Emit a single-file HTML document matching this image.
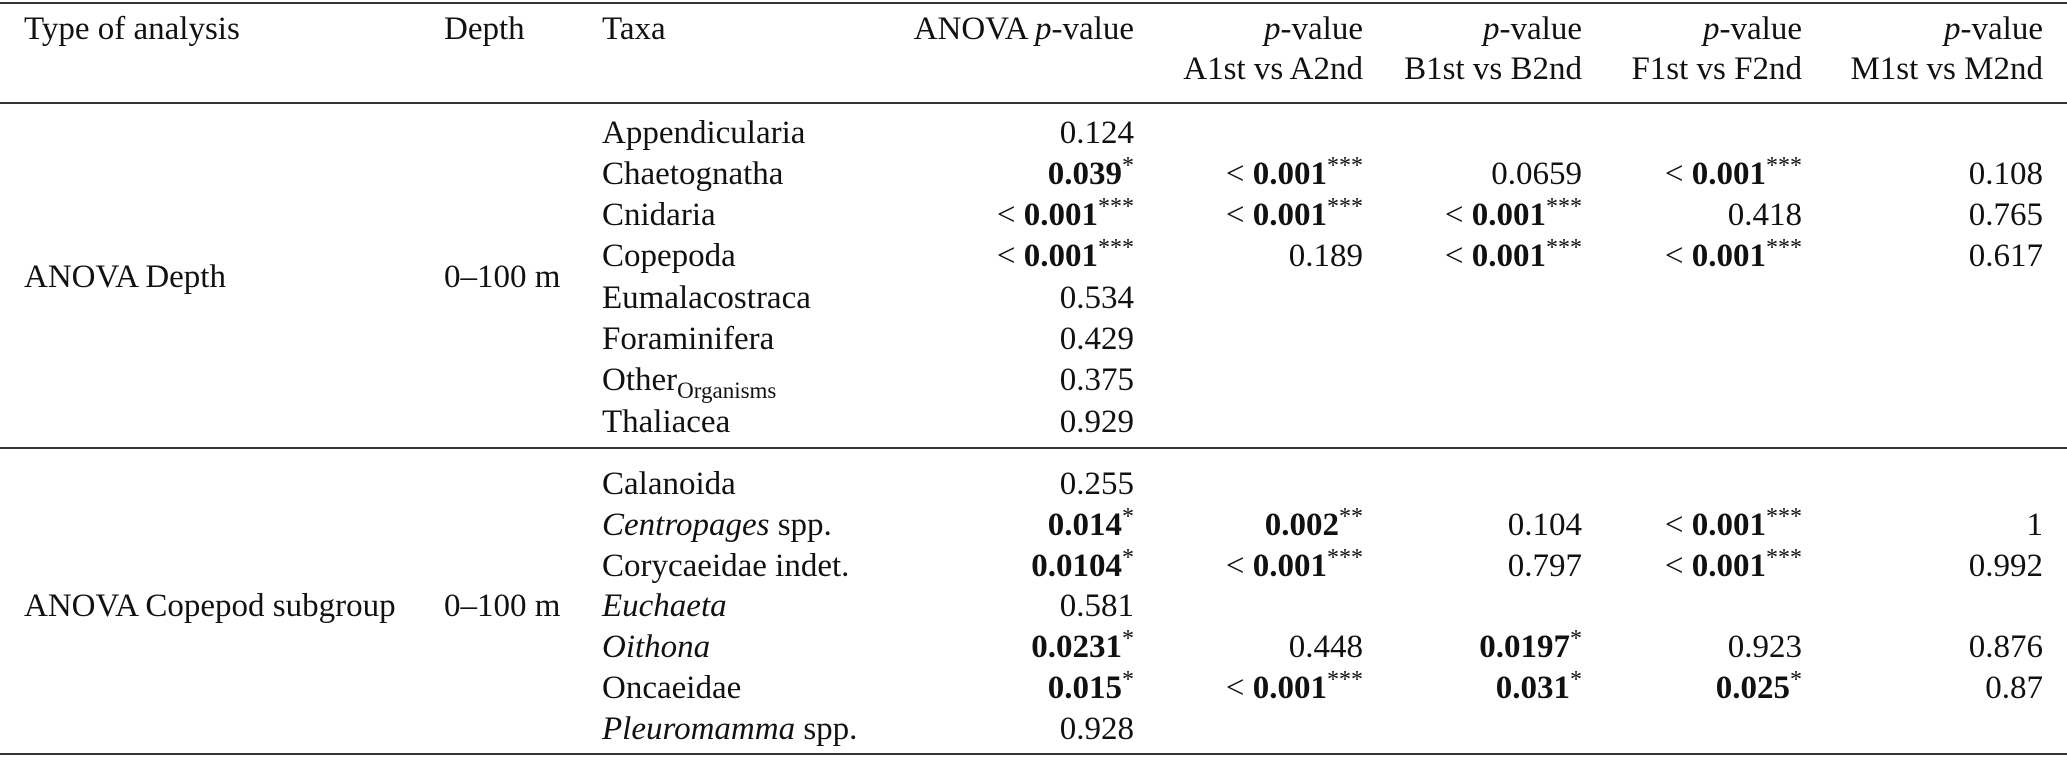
<!DOCTYPE html>
<html><head><meta charset="utf-8"><style>
body{margin:0;width:2067px;height:766px;background:#fff;position:relative;overflow:hidden;font-family:"Liberation Serif",serif;font-size:33px;color:#111}
.c{position:absolute;line-height:40px;height:40px;white-space:nowrap}
.r{text-align:right}
.rule{position:absolute;left:0;width:2067px;height:2px;background:#333}
sup{font-size:24px;line-height:0;vertical-align:11px}
sub{font-size:23px;line-height:0;vertical-align:-8px}
</style></head><body>
<div class="rule" style="top:2px"></div>
<div class="rule" style="top:102px"></div>
<div class="rule" style="top:447px"></div>
<div class="rule" style="top:753px"></div>

<div class="c" style="left:24px;top:9px">Type of analysis</div>
<div class="c" style="left:444px;top:9px">Depth</div>
<div class="c" style="left:602px;top:9px">Taxa</div>
<div class="c r" style="right:933px;top:9px">ANOVA <i>p</i>-value</div>
<div class="c r" style="right:704px;top:9px;height:80px"><i>p</i>-value<br>A1st vs A2nd</div>
<div class="c r" style="right:485px;top:9px;height:80px"><i>p</i>-value<br>B1st vs B2nd</div>
<div class="c r" style="right:265px;top:9px;height:80px"><i>p</i>-value<br>F1st vs F2nd</div>
<div class="c r" style="right:24px;top:9px;height:80px"><i>p</i>-value<br>M1st vs M2nd</div>

<div id="body"></div>
<script>
const rowsY=[133,174,215,256,298,339,380,422,484,525,566,606,647,688,729];
const taxa=["Appendicularia","Chaetognatha","Cnidaria","Copepoda","Eumalacostraca","Foraminifera","Other<sub>Organisms</sub>","Thaliacea","Calanoida","<i>Centropages</i> spp.","Corycaeidae indet.","<i>Euchaeta</i>","<i>Oithona</i>","Oncaeidae","<i>Pleuromamma</i> spp."];
const L="&lt; <b>0.001</b><sup>***</sup>";
const anova=["0.124","<b>0.039</b><sup>*</sup>",L,L,"0.534","0.429","0.375","0.929","0.255","<b>0.014</b><sup>*</sup>","<b>0.0104</b><sup>*</sup>","0.581","<b>0.0231</b><sup>*</sup>","<b>0.015</b><sup>*</sup>","0.928"];
const colA=["",L,L,"0.189","","","","","","<b>0.002</b><sup>**</sup>",L,"","0.448",L,""];
const colB=["","0.0659",L,L,"","","","","","0.104","0.797","","<b>0.0197</b><sup>*</sup>","<b>0.031</b><sup>*</sup>",""];
const colF=["",L,"0.418",L,"","","","","",L,L,"","0.923","<b>0.025</b><sup>*</sup>",""];
const colM=["","0.108","0.765","0.617","","","","","","1","0.992","","0.876","0.87",""];
const body=document.getElementById('body');
function cell(html,y,pos,name){
  const d=document.createElement('div');
  d.className='c'+(pos.right!==undefined?' r':'');
  
  
  d.style.top=(y-20)+'px';
  if(pos.left!==undefined)d.style.left=pos.left+'px';else d.style.right=pos.right+'px';
  d.innerHTML=html;body.appendChild(d);
}
cell("ANOVA Depth",277,{left:24},'group-depth');
cell("0–100 m",277,{left:444},'depth-range');
cell("ANOVA Copepod subgroup",606,{left:24},'group-copepod');
cell("0–100 m",606,{left:444},'depth-range');
taxa.forEach((t,i)=>{
  const y=rowsY[i];
  cell(t,y,{left:602},'taxon-name');
  cell(anova[i],y,{right:933},'anova-pvalue');
  if(colA[i])cell(colA[i],y,{right:704},'a-pvalue');
  if(colB[i])cell(colB[i],y,{right:485},'b-pvalue');
  if(colF[i])cell(colF[i],y,{right:265},'f-pvalue');
  if(colM[i])cell(colM[i],y,{right:24},'m-pvalue');
});
</script>
</body></html>
